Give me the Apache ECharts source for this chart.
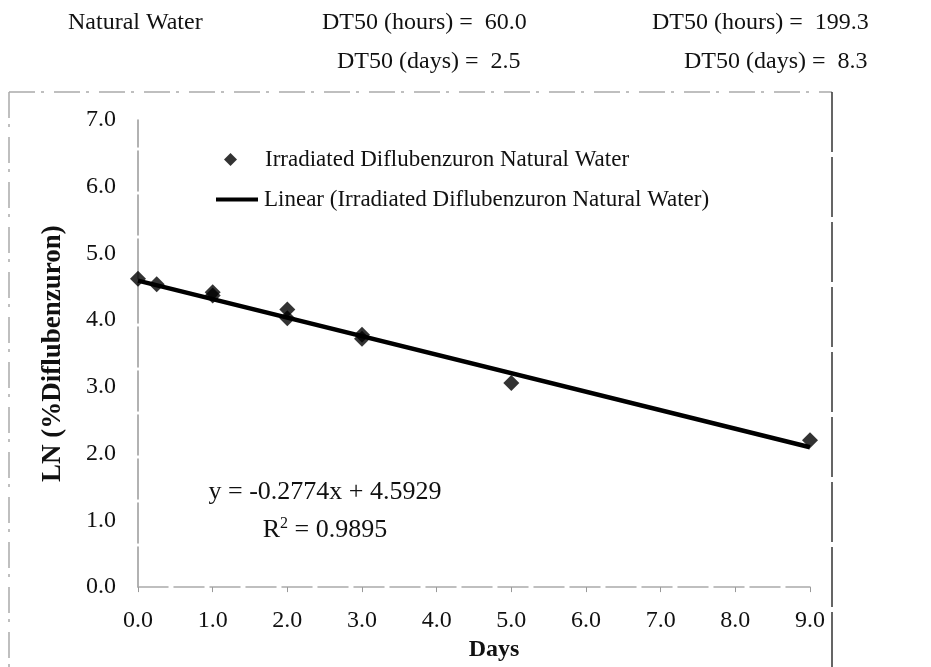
<!DOCTYPE html>
<html>
<head>
<meta charset="utf-8">
<script src="https://cdn.jsdelivr.net/npm/echarts@6/dist/echarts.min.js"></script>
<style>
  html, body { margin: 0; padding: 0; background: #fff; }
  #chart { width: 931px; height: 667px; }
</style>
</head>
<body>
<div id="chart"></div>
<script>
// measured points (Days, LN %Diflubenzuron)
const days = [0, 0.25, 1, 1, 2, 2, 3, 3, 5, 9];
const lnPercent = [4.62, 4.54, 4.42, 4.37, 4.16, 4.03, 3.78, 3.72, 3.06, 2.20];

// linear trend line end points
const trendDays = [0, 9];
const trendLn = [4.5929, 2.0963];

const seriesNames = [
  'Irradiated Diflubenzuron Natural Water',
  'Linear (Irradiated Diflubenzuron Natural Water)'
];
const equationLines = ['y = -0.2774x + 4.5929', 'R{sup|2} = 0.9895'];
const headerRow1 = ['Natural Water', 'DT50 (hours) =  60.0', 'DT50 (hours) =  199.3'];
const headerRow2 = ['DT50 (days) =  2.5', 'DT50 (days) =  8.3'];

const font = '"Liberation Serif", "Times New Roman", serif';
const chart = echarts.init(document.getElementById('chart'));

const txt = (text, x, y, extra) => ({
  type: 'text',
  x: x,
  y: y,
  style: Object.assign({
    text: text,
    fontFamily: font,
    fontSize: 24,
    fill: '#111',
    textVerticalAlign: 'middle'
  }, extra || {})
});

const option = {
  backgroundColor: '#fff',
  animation: false,
  grid: { left: 138, right: 121, top: 120, bottom: 79 },
  xAxis: {
    type: 'value',
    min: 0,
    max: 9,
    interval: 1,
    name: 'Days',
    nameLocation: 'middle',
    nameGap: 44,
    nameTextStyle: { fontFamily: font, fontSize: 24, fontWeight: 'bold', color: '#111', padding: [0, 0, 0, 40] },
    axisLine: { lineStyle: { color: '#aaa', width: 1.5, type: [30, 6] } },
    axisTick: { show: true, length: 5, lineStyle: { color: '#999' } },
    axisLabel: { fontFamily: font, fontSize: 24, color: '#111', margin: 22, formatter: v => v.toFixed(1) },
    splitLine: { show: false }
  },
  yAxis: {
    type: 'value',
    min: 0,
    max: 7,
    interval: 1,
    name: 'LN (%Diflubenzuron)',
    nameLocation: 'middle',
    nameRotate: 90,
    nameGap: 71,
    nameTextStyle: { fontFamily: font, fontSize: 27, fontWeight: 'bold', color: '#111' },
    axisLine: { show: true, lineStyle: { color: '#999', width: 1.5, type: [40, 4] } },
    axisTick: { show: false },
    axisLabel: { fontFamily: font, fontSize: 24, color: '#111', margin: 22, formatter: v => v.toFixed(1) },
    splitLine: { show: false }
  },
  legend: [
    {
      data: [{ name: seriesNames[0], icon: 'diamond' }],
      left: 219,
      top: 143,
      itemWidth: 13,
      itemHeight: 13,
      textStyle: { fontFamily: font, fontSize: 23, color: '#111', padding: [0, 0, 0, 23] }
    },
    {
      data: [{ name: seriesNames[1], icon: 'rect' }],
      left: 211,
      top: 183,
      itemWidth: 42,
      itemHeight: 4,
      textStyle: { fontFamily: font, fontSize: 23, color: '#111', padding: [0, 0, 0, 1] }
    }
  ],
  series: [
    {
      name: seriesNames[1],
      type: 'line',
      symbol: 'none',
      z: 2,
      lineStyle: { color: '#000', width: 4.5 },
      itemStyle: { color: '#000' },
      data: trendDays.map((d, i) => [d, trendLn[i]])
    },
    {
      name: seriesNames[0],
      type: 'scatter',
      symbol: 'diamond',
      symbolSize: 16,
      z: 3,
      itemStyle: { color: '#000' },
      data: days.map((d, i) => [d, lnPercent[i]])
    }
  ],
  graphic: [
    // header
    txt(headerRow1[0], 68, 23),
    txt(headerRow1[1], 322, 23),
    txt(headerRow1[2], 652, 23),
    txt(headerRow2[0], 337, 62),
    txt(headerRow2[1], 684, 62),
    // outer chart frame
    { type: 'line', shape: { x1: 9, y1: 92, x2: 832, y2: 92 }, style: { stroke: '#aaa', lineWidth: 1.5, lineDash: [26, 6, 3, 10] } },
    { type: 'line', shape: { x1: 9, y1: 92, x2: 9, y2: 667 }, style: { stroke: '#aaa', lineWidth: 1.5, lineDash: [26, 6, 3, 10] } },
    { type: 'line', shape: { x1: 832, y1: 92, x2: 832, y2: 667 }, style: { stroke: '#333', lineWidth: 1.5, lineDash: [60, 5] } },
    // regression equation
    txt(equationLines[0], 325, 492, { textAlign: 'center', fontSize: 26 }),
    {
      type: 'text',
      x: 325,
      y: 530,
      style: {
        text: equationLines[1],
        textAlign: 'center',
        textVerticalAlign: 'middle',
        fill: '#111',
        fontFamily: font,
        fontSize: 26,
        rich: { sup: { fontFamily: font, fontSize: 16, verticalAlign: 'top', padding: [0, 0, 12, 0] } }
      }
    }
  ]
};

chart.setOption(option);
</script>
</body>
</html>
